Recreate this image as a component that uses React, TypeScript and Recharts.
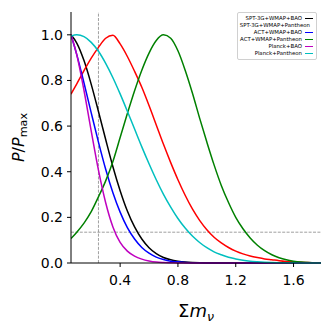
import { LineChart, Line, XAxis, YAxis, ReferenceLine, Legend } from "recharts";

// summed neutrino mass grid (eV)
const massGrid = [
  0.06, 0.1, 0.15, 0.2, 0.25, 0.3, 0.35, 0.4, 0.45, 0.5, 0.55, 0.6, 0.65, 0.7,
  0.75, 0.8, 0.85, 0.9, 0.95, 1.0, 1.05, 1.1, 1.15, 1.2, 1.25, 1.3, 1.35, 1.4,
  1.45, 1.5, 1.55, 1.6, 1.65, 1.7, 1.75, 1.8,
];

const sptBao = [
  1.0, 0.964, 0.887, 0.783, 0.664, 0.541, 0.422, 0.317, 0.228, 0.158, 0.105,
  0.067, 0.041, 0.024, 0.014, 0.008, 0.004, 0.002, 0.001, 0.0005, 0, 0, 0, 0,
  0, 0, 0, 0, 0, 0, 0, 0, 0, 0, 0, 0,
];

const sptPantheon = [
  0.74, 0.785, 0.843, 0.898, 0.945, 0.985, 0.998, 0.96, 0.905, 0.84, 0.77, 0.69,
  0.605, 0.52, 0.44, 0.365, 0.297, 0.237, 0.187, 0.146, 0.113, 0.088, 0.068,
  0.052, 0.04, 0.031, 0.024, 0.018, 0.014, 0.01, 0.007, 0.005, 0.003, 0.002,
  0.001, 0,
];

const actBao = [
  1.0, 0.913, 0.789, 0.658, 0.53, 0.411, 0.308, 0.223, 0.155, 0.105, 0.068,
  0.043, 0.026, 0.015, 0.008, 0.005, 0.002, 0.001, 0.0006, 0.0003, 0, 0, 0, 0,
  0, 0, 0, 0, 0, 0, 0, 0, 0, 0, 0, 0,
];

const actPantheon = [
  0.107, 0.135, 0.175, 0.225, 0.29, 0.36, 0.445, 0.55, 0.655, 0.755, 0.845,
  0.92, 0.975, 1.0, 0.985, 0.93, 0.845, 0.745, 0.635, 0.53, 0.43, 0.34, 0.265,
  0.2, 0.15, 0.11, 0.078, 0.054, 0.036, 0.023, 0.014, 0.008, 0.004, 0.002,
  0.001, 0,
];

const planckBao = [
  1.0, 0.912, 0.756, 0.578, 0.407, 0.264, 0.158, 0.09, 0.052, 0.03, 0.017,
  0.009, 0.004, 0.002, 0.001, 0, 0, 0, 0, 0, 0, 0, 0, 0, 0, 0, 0, 0, 0, 0, 0,
  0, 0, 0, 0, 0,
];

const planckPantheon = [
  0.995, 1.0, 0.992, 0.967, 0.928, 0.875, 0.812, 0.741, 0.665, 0.587, 0.509,
  0.435, 0.365, 0.301, 0.245, 0.195, 0.153, 0.118, 0.09, 0.067, 0.049, 0.036,
  0.025, 0.018, 0.012, 0.008, 0.0055, 0.0036, 0.0023, 0.0015, 0.001, 0.0006,
  0.0003, 0.0002, 0.0001, 0,
];

const xTicks = [0.4, 0.8, 1.2, 1.6];
const yTicks = [0, 0.2, 0.4, 0.6, 0.8, 1.0];
const massLimit = 0.25;
const twoSigmaLevel = 0.135;

const series = [
  { key: "sptBao", name: "SPT-3G+WMAP+BAO", color: "#000000", values: sptBao },
  { key: "sptPantheon", name: "SPT-3G+WMAP+Pantheon", color: "#ff0000", values: sptPantheon },
  { key: "actBao", name: "ACT+WMAP+BAO", color: "#0000ff", values: actBao },
  { key: "actPantheon", name: "ACT+WMAP+Pantheon", color: "#008000", values: actPantheon },
  { key: "planckBao", name: "Planck+BAO", color: "#bf00bf", values: planckBao },
  { key: "planckPantheon", name: "Planck+Pantheon", color: "#00bfbf", values: planckPantheon },
];

const rows = massGrid.map((m, i) => {
  const row: Record<string, number> = { m };
  series.forEach((s) => {
    row[s.key] = s.values[i];
  });
  return row;
});

const FONT = "DejaVu Sans";
const X_DOMAIN: [number, number] = [0.06, 1.79];
const Y_DOMAIN: [number, number] = [0, 1.1];

// keep the plotting order (recharts sorts legend payload by name otherwise)
const LegendBox = () => (
  <div
    style={{
      boxSizing: "border-box",
      width: 80,
      border: "1px solid #d0d0d0",
      borderRadius: 2,
      background: "rgba(255,255,255,0.8)",
      padding: "2px 3px 2px 2px",
      fontFamily: FONT,
      fontSize: 5.4,
      lineHeight: "7px",
      whiteSpace: "nowrap",
    }}
  >
    {series.map((s) => (
      <div
        key={s.key}
        style={{ display: "flex", justifyContent: "flex-end", alignItems: "center" }}
      >
        <span>{s.name}</span>
        <span
          style={{
            display: "inline-block",
            width: 8,
            height: 1.5,
            background: s.color,
            marginLeft: 3,
          }}
        />
      </div>
    ))}
  </div>
);

const YLabel = () => (
  <text
    x={24}
    y={137.5}
    transform="rotate(-90, 24, 137.5)"
    textAnchor="middle"
    fontFamily={FONT}
    fontSize={16}
    fill="#000"
  >
    <tspan fontStyle="italic">P</tspan>
    <tspan>/</tspan>
    <tspan fontStyle="italic">P</tspan>
    <tspan fontSize={11.2} dy={3}>max</tspan>
  </text>
);

const XLabel = () => (
  <text x={196} y={317} textAnchor="middle" fontFamily={FONT} fontSize={18} fill="#000">
    <tspan>Σ</tspan>
    <tspan fontStyle="italic">m</tspan>
    <tspan fontStyle="italic" fontSize={12.6} dy={4}>ν</tspan>
  </text>
);

const tickStyle = { fontFamily: FONT, fontSize: 14, fill: "#000" };

export default function App() {
  return (
    <div style={{ position: "absolute", left: 0, top: 0, background: "#fff" }}>
      <LineChart
        width={332}
        height={334}
        data={rows}
        margin={{ top: 12, right: 11, bottom: 0, left: 0 }}
      >
        <XAxis
          dataKey="m"
          type="number"
          domain={X_DOMAIN}
          allowDataOverflow
          ticks={xTicks}
          tickFormatter={(v: number) => v.toFixed(1)}
          tick={tickStyle}
          tickSize={4}
          tickMargin={8}
          height={71}
          stroke="#000"
          label={{ content: () => <XLabel /> }}
        />
        <XAxis
          xAxisId="top"
          orientation="top"
          dataKey="m"
          type="number"
          domain={X_DOMAIN}
          allowDataOverflow
          tick={false}
          tickLine={false}
          height={0}
          stroke="#000"
        />
        <YAxis
          type="number"
          domain={Y_DOMAIN}
          ticks={yTicks}
          tickFormatter={(v: number) => v.toFixed(1)}
          tick={tickStyle}
          tickSize={4}
          tickMargin={4}
          width={71}
          stroke="#000"
          label={{ content: () => <YLabel /> }}
        />
        <YAxis
          yAxisId="right"
          orientation="right"
          type="number"
          domain={Y_DOMAIN}
          tick={false}
          tickLine={false}
          width={0}
          stroke="#000"
        />
        <ReferenceLine
          x={massLimit}
          stroke="#888"
          strokeWidth={0.8}
          strokeDasharray="3 1.4"
        />
        <ReferenceLine
          y={twoSigmaLevel}
          stroke="#888"
          strokeWidth={0.8}
          strokeDasharray="3 1.4"
        />
        {series.map((s) => (
          <Line
            key={s.key}
            dataKey={s.key}
            name={s.name}
            type="monotone"
            stroke={s.color}
            strokeWidth={1.5}
            dot={false}
            activeDot={false}
            isAnimationActive={false}
          />
        ))}
        <Legend
          layout="vertical"
          align="center"
          verticalAlign="middle"
          content={<LegendBox />}
          wrapperStyle={{ left: 237, top: 12, width: 80 }}
        />
      </LineChart>
    </div>
  );
}
